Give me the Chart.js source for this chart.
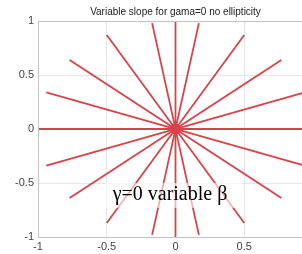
<!DOCTYPE html>
<html>
<head>
<meta charset="utf-8">
<script src="https://cdn.jsdelivr.net/npm/chart.js@4.4.0/dist/chart.umd.min.js"></script>
<style>
  html, body { margin: 0; padding: 0; background: #fff; overflow: hidden; }
  .chart-container { position: relative; width: 330px; height: 254px; }
</style>
</head>
<body>
<div class="chart-container"><canvas id="slope-chart"></canvas></div>
<script>
// extremités des droites (l'autre bout est le symétrique par rapport à l'origine)
const lineEndX = [1, 0.94, 0.77, 0.5, 0.17, 0, -0.17, -0.5, -0.77, -0.94];
const lineEndY = [0, 0.34, 0.64, 0.87, 0.98, 1, 0.98, 0.87, 0.64, 0.34];
const tickValues = [-1, -0.5, 0, 0.5, 1];
const tickLabels = ['-1', '-0.5', '0', '0.5', '1'];
const titleText = 'Variable slope for gama=0 no ellipticity';
const noteText = '\u03b3=0 variable \u03b2';

const datasets = lineEndX.map((x, i) => ({
    data: [{ x: -x, y: -lineEndY[i] }, { x: x, y: lineEndY[i] }],
    showLine: true,
    borderColor: '#d8424a',
    borderWidth: 1.8,
    pointRadius: 0
}));
datasets.push({
    data: [{ x: 0, y: 0 }],
    pointRadius: 5,
    pointBackgroundColor: '#ff0a0a',
    pointBorderColor: '#ff0a0a'
});

const overlay = {
    id: 'overlay',
    afterDraw(chart) {
        const { ctx, chartArea, scales } = chart;
        ctx.save();
        // cadre complet (haut et droite)
        ctx.strokeStyle = '#c4c4c4';
        ctx.lineWidth = 1;
        ctx.strokeRect(chartArea.left + 0.5, chartArea.top + 0.5, chartArea.right - chartArea.left, chartArea.bottom - chartArea.top);
        ctx.fillStyle = '#222';
        ctx.font = '10px "Liberation Sans", Arial, sans-serif';
        ctx.textAlign = 'center';
        ctx.textBaseline = 'middle';
        ctx.fillText(titleText, (chartArea.left + chartArea.right) / 2, 12);
        // boîte semi-transparente avec l'annotation
        const x1 = scales.x.getPixelForValue(-0.51), x2 = scales.x.getPixelForValue(0.49);
        const y1 = scales.y.getPixelForValue(-0.5), y2 = scales.y.getPixelForValue(-0.73);
        ctx.fillStyle = 'rgba(255,255,255,0.6)';
        ctx.fillRect(x1, y1, x2 - x1, y2 - y1);
        ctx.fillStyle = '#000';
        ctx.font = '20px "Liberation Serif", "Times New Roman", serif';
        ctx.fillText(noteText, scales.x.getPixelForValue(-0.04), scales.y.getPixelForValue(-0.61));
        ctx.restore();
    }
};

const tickFmt = (v) => tickLabels[tickValues.indexOf(v)] ?? '';

new Chart(document.getElementById('slope-chart').getContext('2d'), {
    type: 'scatter',
    data: { datasets: datasets },
    options: {
        responsive: true,
        maintainAspectRatio: false,
        animation: false,
        layout: { padding: { top: 21, right: 17, left: 0, bottom: 0 } },
        plugins: { legend: { display: false }, tooltip: { enabled: false } },
        scales: {
            x: {
                min: -1, max: 1,
                afterBuildTicks: (s) => { s.ticks = tickValues.map(v => ({ value: v })); },
                afterFit: (s) => { s.height = 17; },
                ticks: { callback: tickFmt, color: '#444', font: { family: '"Liberation Sans", Arial', size: 11 }, padding: 3, maxRotation: 0 },
                grid: { color: '#e6e6e6', drawTicks: false },
                border: { color: '#c4c4c4' }
            },
            y: {
                min: -1, max: 1,
                afterBuildTicks: (s) => { s.ticks = tickValues.map(v => ({ value: v })); },
                afterFit: (s) => { s.width = 38; },
                ticks: { callback: tickFmt, color: '#444', font: { family: '"Liberation Sans", Arial', size: 11 }, padding: 4 },
                grid: { color: '#e6e6e6', drawTicks: false },
                border: { color: '#c4c4c4' }
            }
        }
    },
    plugins: [overlay]
});
</script>
</body>
</html>
